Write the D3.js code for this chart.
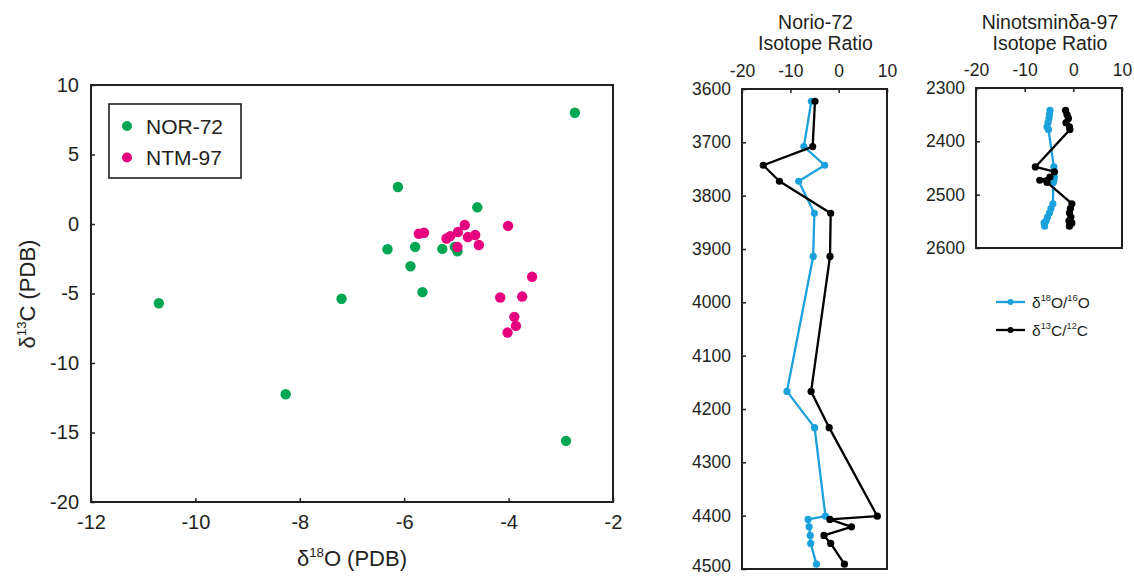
<!DOCTYPE html>
<html><head><meta charset="utf-8">
<script src="https://cdn.jsdelivr.net/npm/d3@7"></script>
<style>
body{margin:0;background:#fff}
svg text{font-family:"Liberation Sans",Arial,Helvetica,sans-serif;fill:#231f20}
</style>
</head><body>
<svg id="c" width="1134" height="576"></svg>
<script>
// ---- NOR-72 (Norio-72) samples: depth, d18O, d13C ----
const norDepth = [3623, 3708, 3743, 3773, 3833, 3914, 4167, 4235, 4401, 4407, 4421, 4437, 4452, 4491];
const norO     = [-5.65, -7.2, -2.9, -8.27, -5.03, -5.27, -10.7, -4.98, -2.73, -6.32, -6.12, -5.88, -5.79, -4.6];
const norC     = [-4.9, -5.38, -15.6, -12.25, -1.65, -1.79, -5.7, -1.96, 8.0, -1.82, 2.66, -3.04, -1.65, 1.2];

// ---- NTM-97 scatter values (d18O, d13C) ----
const ntmScatterO = [-5.72, -5.62, -5.19, -5.12, -4.97, -4.84, -4.78, -4.64, -4.57, -4.98, -4.01, -3.55, -4.16, -3.74, -3.89, -3.86, -4.02];
const ntmScatterC = [-0.70, -0.63, -1.04, -0.87, -0.58, -0.07, -0.94, -0.79, -1.51, -1.66, -0.14, -3.8, -5.29, -5.22, -6.68, -7.33, -7.81];

// ---- Ninotsminda-97 profile ----
const ntmDepth = [2342, 2350, 2357, 2365, 2373, 2378, 2448, 2457, 2467, 2473, 2477, 2517, 2526, 2534, 2542, 2549, 2553, 2559];
const ntmO     = [-4.8, -4.9, -5.0, -5.2, -5.4, -5.1, -4.0, -3.9, -3.9, -4.0, -4.1, -4.2, -4.6, -4.9, -5.3, -5.6, -6.0, -5.9];
const ntmC     = [-1.6, -1.3, -1.0, -1.5, -0.8, -0.7, -7.8, -3.9, -4.8, -6.9, -5.4, -0.3, -0.6, -0.8, -0.5, -0.9, -0.3, -0.8];

// ---- ticks / labels ----
const scatterXTicks = [-12, -10, -8, -6, -4, -2];
const scatterYTicks = [10, 5, 0, -5, -10, -15, -20];
const ratioTicks = [-20, -10, 0, 10];
const norDepthTicks = [3600, 3700, 3800, 3900, 4000, 4100, 4200, 4300, 4400, 4500];
const ntmDepthTicks = [2300, 2400, 2500, 2600];
const seriesNames = ["NOR-72", "NTM-97"];

const ink = "#231f20";
const cGreen = "#00a651", cMag = "#e6007e", cBlue = "#1ba1dc", cBlack = "#000000";
const svg = d3.select("#c");

function rich(g, x, y, parts, size, anchor, rotate) {
  const t = g.append("text").attr("x", x).attr("y", y).attr("font-size", size)
    .attr("text-anchor", anchor || "start");
  if (rotate) t.attr("transform", `rotate(${rotate},${x},${y})`);
  let shift = 0;
  parts.forEach(p => {
    const sup = typeof p !== "string";
    const ts = t.append("tspan").text(sup ? p.sup : p);
    const target = sup ? -size * 0.42 : 0;
    if (target !== shift) ts.attr("dy", target - shift);
    shift = target;
    if (sup) ts.attr("font-size", size * 0.6);
  });
  return t;
}
function styleAxis(g, fs) {
  g.select(".domain").remove();
  g.attr("font-size", fs).attr("font-family", null).attr("color", ink);
  g.selectAll(".tick line").attr("stroke", ink).attr("stroke-width", 1.5);
}
const fmt = d => String(d);

// ================= Scatter =================
const sx = d3.scaleLinear().domain([-12, -2]).range([91, 613]);
const sy = d3.scaleLinear().domain([-20, 10]).range([502, 85]);
const gs = svg.append("g");
gs.append("g").attr("transform", `translate(0,${sy(-20)})`)
  .call(d3.axisBottom(sx).tickValues(scatterXTicks).tickFormat(fmt).tickSize(-4).tickPadding(13))
  .call(g => styleAxis(g, 20));
gs.append("g").attr("transform", `translate(${sx(-12)},0)`)
  .call(d3.axisLeft(sy).tickValues(scatterYTicks).tickFormat(fmt).tickSize(-4).tickPadding(12))
  .call(g => styleAxis(g, 20));
gs.append("rect").attr("x", sx(-12)).attr("y", sy(10))
  .attr("width", sx(-2) - sx(-12)).attr("height", sy(-20) - sy(10))
  .attr("fill", "none").attr("stroke", ink).attr("stroke-width", 2);

gs.append("g").selectAll("circle").data(norO).join("circle")
  .attr("cx", d => sx(d)).attr("cy", (d, i) => sy(norC[i])).attr("r", 5.2).attr("fill", cGreen);
gs.append("g").selectAll("circle").data(ntmScatterO).join("circle")
  .attr("cx", d => sx(d)).attr("cy", (d, i) => sy(ntmScatterC[i])).attr("r", 5.2).attr("fill", cMag);

// legend
const lg = gs.append("g");
lg.append("rect").attr("x", 109).attr("y", 104).attr("width", 132).attr("height", 74)
  .attr("fill", "#fff").attr("stroke", ink).attr("stroke-width", 1.6);
[cGreen, cMag].forEach((c, i) => {
  lg.append("circle").attr("cx", 127).attr("cy", 126 + i * 31.5).attr("r", 5).attr("fill", c);
  lg.append("text").attr("x", 146).attr("y", 133.5 + i * 31.5).attr("font-size", 21).text(seriesNames[i]);
});

rich(gs, 352, 566, ["δ", {sup: "18"}, "O (PDB)"], 22, "middle");
rich(gs, 35, 294, ["δ", {sup: "13"}, "C (PDB)"], 22, "middle", -90);

// ================= Profile panels =================
function panel(x0, x1, y0, y1, dDomain, dTicks, depth, O, C, title) {
  const px = d3.scaleLinear().domain([-20, 10]).range([x0, x1]);
  const py = d3.scaleLinear().domain(dDomain).range([y0, y1]);
  const g = svg.append("g");
  g.append("g").attr("transform", `translate(0,${y0})`)
    .call(d3.axisTop(px).tickValues(ratioTicks).tickFormat(fmt).tickSize(-4).tickPadding(12))
    .call(a => styleAxis(a, 17.5));
  const ya = g.append("g").attr("transform", `translate(${x0},0)`)
    .call(d3.axisLeft(py).tickValues(dTicks).tickFormat(fmt).tickSize(-4).tickPadding(11))
    .call(a => styleAxis(a, 17.5));
  // keep the lowest label inside the canvas
  ya.selectAll(".tick text").filter(d => py(d) > 560).attr("dy", "0.15em");
  g.append("rect").attr("x", x0).attr("y", y0).attr("width", x1 - x0).attr("height", y1 - y0)
    .attr("fill", "none").attr("stroke", ink).attr("stroke-width", 2);
  const cx = (x0 + x1) / 2 + 1;
  g.append("text").attr("x", cx).attr("y", 29).attr("text-anchor", "middle").attr("font-size", 19.5).text(title);
  g.append("text").attr("x", cx).attr("y", 49.5).attr("text-anchor", "middle").attr("font-size", 19.5).text("Isotope Ratio");
  [[O, cBlue], [C, cBlack]].forEach(([vals, col]) => {
    const line = d3.line().x(d => px(d)).y((d, i) => py(depth[i]));
    g.append("path").attr("d", line(vals)).attr("fill", "none").attr("stroke", col)
      .attr("stroke-width", 2.3).attr("stroke-linejoin", "round");
    g.append("g").selectAll("circle").data(vals).join("circle")
      .attr("cx", d => px(d)).attr("cy", (d, i) => py(depth[i])).attr("r", 3.6).attr("fill", col);
  });
}
panel(742, 887, 89, 569, [3600, 4500], norDepthTicks, norDepth, norO, norC, "Norio-72");
panel(976, 1122, 88, 248, [2300, 2600], ntmDepthTicks, ntmDepth, ntmO, ntmC, "Ninotsminδa-97");

// right legend
const rl = svg.append("g");
[[cBlue, ["δ", {sup: "18"}, "O/", {sup: "16"}, "O"]], [cBlack, ["δ", {sup: "13"}, "C/", {sup: "12"}, "C"]]].forEach(([col, parts], i) => {
  const y = 302 + i * 28;
  rl.append("line").attr("x1", 996).attr("x2", 1025).attr("y1", y).attr("y2", y)
    .attr("stroke", col).attr("stroke-width", 2.3);
  rl.append("circle").attr("cx", 1010.5).attr("cy", y).attr("r", 3).attr("fill", col);
  rich(rl, 1032, y + 6, parts, 15.5, "start");
});
</script>
</body></html>
